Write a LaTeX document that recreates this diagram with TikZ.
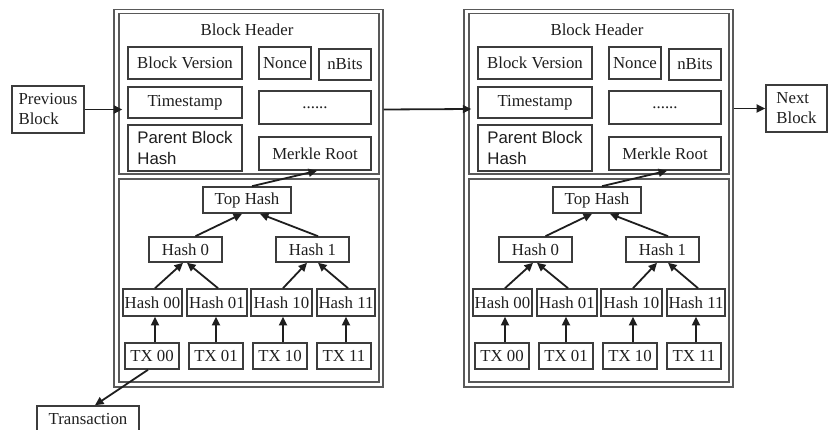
\documentclass[tikz,border=0pt]{standalone}
\usepackage{fontspec}
\setmainfont{Liberation Serif}
\newfontfamily\arialfont{Liberation Sans}
\usetikzlibrary{arrows.meta}
\definecolor{ink}{HTML}{1E1E1E}
\definecolor{rule}{HTML}{3C3C3C}

\begin{document}
\begin{tikzpicture}[x=1pt,y=-1pt,
  box/.style={draw=rule, line width=1.6pt, inner sep=0pt, text=ink,
    font=\fontsize{16.8}{20}\selectfont, align=center},
  sz/.style 2 args={minimum width=#1, minimum height=#2},
  frame/.style={draw=rule!85, line width=1.4pt, inner sep=0pt},
  arr/.style={draw=ink, line width=1.8pt, -{Triangle[length=8.5pt,width=8pt]}},
]
\useasboundingbox (0,0) rectangle (829,430);

% two blocks of the chain, each a header plus its Merkle tree
\foreach \p/\dx in {L/0,R/350}{
\begin{scope}[xshift=\dx]
  \node[frame, sz={269}{377.5}] (\p-outer)  at (248.5,198.25) {};
  \node[frame, sz={260}{160.5}] (\p-header) at (249,93.75) {};
  \node[frame, sz={260}{203}]   (\p-tree)   at (249,280.5) {};

  \node[text=ink, font=\fontsize{16.8}{20}\selectfont] (\p-title) at (247,30) {Block Header};
  \node[box, sz={114}{32}] (\p-bv)    at (185,63)    {Block Version};
  \node[box, sz={52}{32}]  (\p-nonce) at (285,63)    {Nonce};
  \node[box, sz={52}{31}]  (\p-nbits) at (345,64.5)  {nBits};
  \node[box, sz={114}{31}] (\p-ts)    at (185,102.5) {Timestamp};
  \node[box, sz={112}{33}] (\p-dots)  at (315,107.5) {......};
  \node[box, sz={114}{46}, align=left,
        font=\arialfont\fontsize{16.8}{21}\selectfont] (\p-pbh) at (185,148) {Parent Block\\Hash};
  \node[box, sz={112}{33}] (\p-mr)    at (315,153.5) {Merkle Root};

  \node[box, sz={88}{26}] (\p-top) at (247,200)   {Top Hash};
  \node[box, sz={73}{25}] (\p-h0)  at (185.5,249.5) {Hash 0};
  \node[box, sz={73}{25}] (\p-h1)  at (312.5,249.5) {Hash 1};
  \node[box, sz={59}{27}] (\p-h00) at (152.5,302.5) {Hash 00};
  \node[box, sz={60}{27}] (\p-h01) at (217,302.5)   {Hash 01};
  \node[box, sz={61}{27}] (\p-h10) at (281.5,302.5) {Hash 10};
  \node[box, sz={58}{27}] (\p-h11) at (346,302.5)   {Hash 11};
  \node[box, sz={54}{26}] (\p-tx00) at (152,356) {TX 00};
  \node[box, sz={54}{26}] (\p-tx01) at (216,356) {TX 01};
  \node[box, sz={54}{26}] (\p-tx10) at (280,356) {TX 10};
  \node[box, sz={54}{26}] (\p-tx11) at (344,356) {TX 11};

  \draw[arr] ([xshift=5]\p-top.north) -- ([xshift=2]\p-mr.south);
  \draw[arr] ([xshift=10]\p-h0.north) -- ([xshift=-5]\p-top.south);
  \draw[arr] ([xshift=5.5]\p-h1.north) -- ([xshift=13]\p-top.south);
  \draw[arr] ([xshift=2.5]\p-h00.north) -- ([xshift=-2.5]\p-h0.south);
  \draw[arr] ([xshift=1]\p-h01.north) -- ([xshift=1.5]\p-h0.south);
  \draw[arr] ([xshift=1.5]\p-h10.north) -- ([xshift=-5.5]\p-h1.south);
  \draw[arr] ([xshift=2]\p-h11.north) -- ([xshift=5.5]\p-h1.south);
  \draw[arr] ([xshift=3]\p-tx00.north) -- ([xshift=3]\p-tx00.north |- \p-h00.south);
  \draw[arr] (\p-tx01.north) -- (\p-tx01.north |- \p-h01.south);
  \draw[arr] ([xshift=3]\p-tx10.north) -- ([xshift=3]\p-tx10.north |- \p-h10.south);
  \draw[arr] ([xshift=2]\p-tx11.north) -- ([xshift=2]\p-tx11.north |- \p-h11.south);
\end{scope}
}

% neighbours in the chain and the transaction detail
\node[box, sz={72}{47}, align=left] (prev) at (48,109.5)   {Previous\\Block};
\node[box, sz={61}{47}, align=left] (next) at (796.5,108.5) {Next\\Block};
\node[box, sz={102}{26}] (trans) at (88,419) {Transaction};

\coordinate (L-in) at ([xshift=4]L-header.west |- prev.east);
\coordinate (R-in) at ([xshift=3]R-header.west |- 0,109);
\draw[arr] (prev.east) -- (L-in);
\draw[arr] (L-outer.east |- 0,109.5) -- (R-in);
\draw[arr] (R-outer.east |- next.west) -- (next.west);
\draw[arr] ([xshift=-4]L-tx00.south) -- ([xshift=7]trans.north);
\end{tikzpicture}
\end{document}
